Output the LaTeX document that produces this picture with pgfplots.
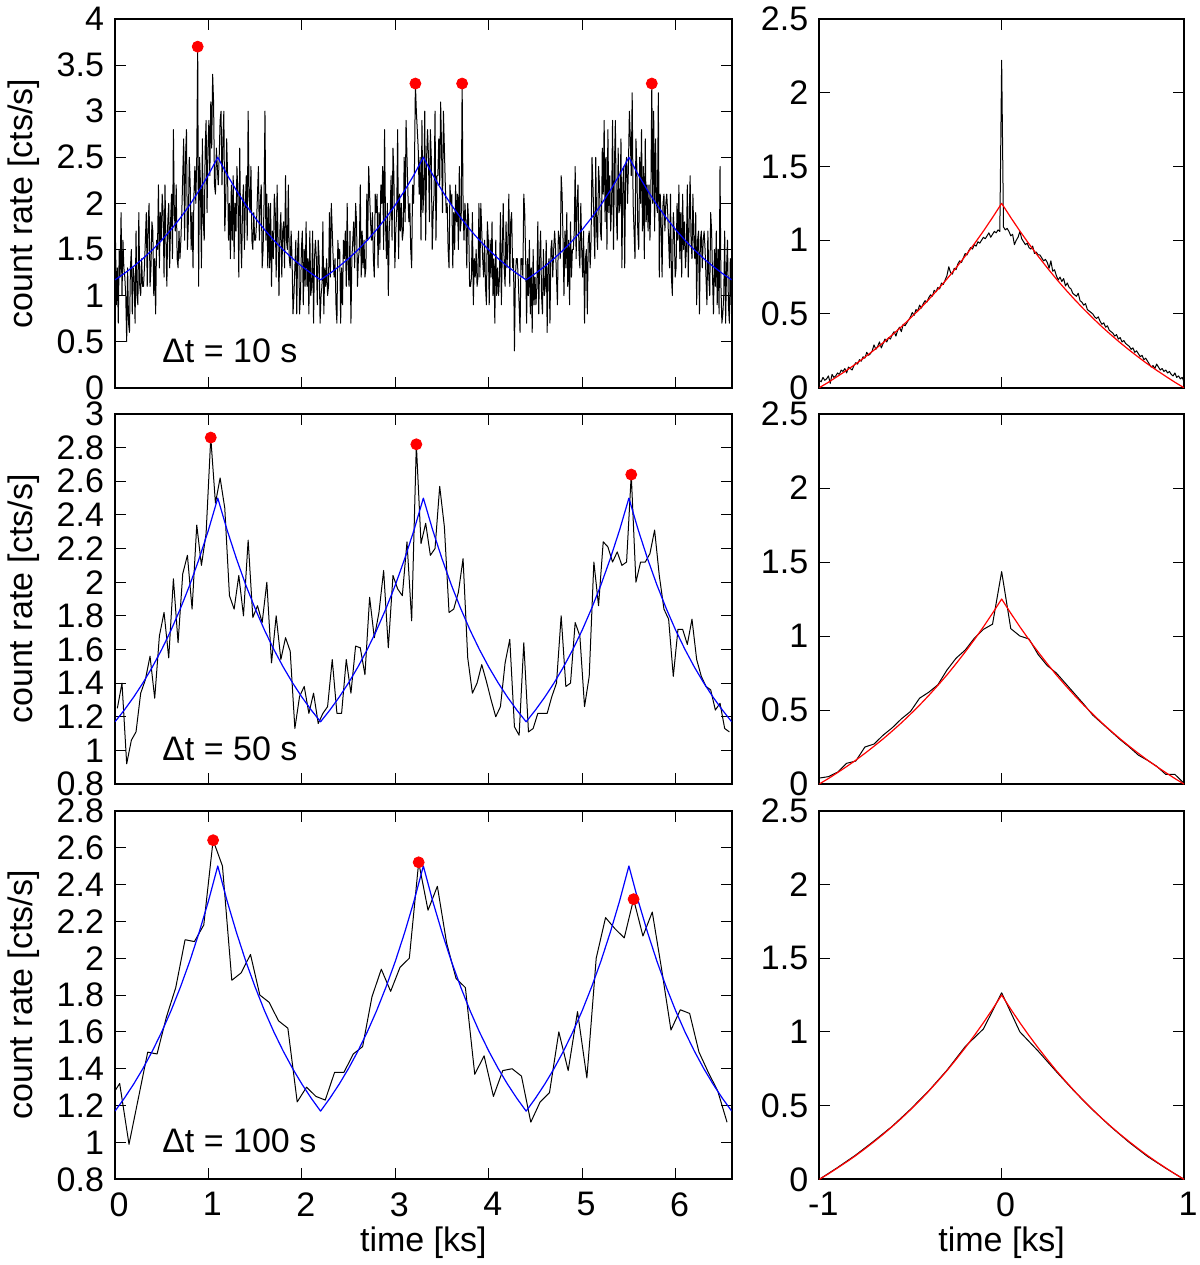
\documentclass[border=0pt]{standalone}
\usepackage{fontspec}
\setmainfont{Liberation Sans}
\usepackage{pgfplots}
\usepackage{pgfplotstable}
\pgfplotsset{compat=1.18}
\newcommand\fs{\fontsize{17pt}{20pt}\selectfont}
\definecolor{gpblue}{RGB}{0,0,255}
\definecolor{gpred}{RGB}{255,0,0}
\pgfplotsset{gp/.style={scale only axis, tick align=inside, tick pos=both,
  axis line style={line width=1pt}, every tick/.style={black, line width=0.5pt},
  major tick length=5.5pt, tick label style={font=\fs}, label style={font=\fs},
  /pgf/number format/assume math mode=true,
  yticklabel style={xshift=-2pt}, xticklabel style={yshift=-3pt, xshift=2pt},
  clip=true},
  left/.style={gp, width=308.35pt, xmin=0, xmax=6.6, xtick={0,1,2,3,4,5,6},
  ylabel={count rate [cts/s]}, ylabel style={at={(axis description cs:-0.148,0.5)}, anchor=center}},
  right/.style={gp, width=182.35pt, xmin=-1, xmax=1, xtick={-1,0,1}, ymin=0, ymax=2.5,
  ytick={0,0.5,1,1.5,2,2.5}},
  dat/.style={black, line width=0.5pt, line join=round},
  blu/.style={gpblue, line width=0.6pt, line join=round},
  rd/.style={gpred, line width=0.6pt, line join=round},
  dots/.style={only marks, mark=*, mark size=2.75pt, mark options={draw=gpred, fill=gpred}}
}
\pgfplotstableread{
t f
0 1.170
0.1 1.240
0.2 1.317
0.3 1.402
0.4 1.496
0.5 1.600
0.6 1.715
0.7 1.843
0.8 1.983
0.9 2.139
1.0 2.310
1.1 2.500
1.2 2.310
1.3 2.139
1.4 1.983
1.5 1.843
1.6 1.715
1.7 1.600
1.8 1.496
1.9 1.402
2.0 1.317
2.1 1.240
2.2 1.170
2.3 1.240
2.4 1.317
2.5 1.402
2.6 1.496
2.7 1.600
2.8 1.715
2.9 1.843
3.0 1.983
3.1 2.139
3.2 2.310
3.3 2.500
3.4 2.310
3.5 2.139
3.6 1.983
3.7 1.843
3.8 1.715
3.9 1.600
4.0 1.496
4.1 1.402
4.2 1.317
4.3 1.240
4.4 1.170
4.5 1.240
4.6 1.317
4.7 1.402
4.8 1.496
4.9 1.600
5.0 1.715
5.1 1.843
5.2 1.983
5.3 2.139
5.4 2.310
5.5 2.500
5.6 2.310
5.7 2.139
5.8 1.983
5.9 1.843
6.0 1.715
6.1 1.600
6.2 1.496
6.3 1.402
6.4 1.317
6.5 1.240
6.6 1.170
}\bluemodel
\pgfplotstableread{
x f
-1.00 0.000
-0.95 0.037
-0.90 0.077
-0.85 0.118
-0.80 0.161
-0.75 0.207
-0.70 0.255
-0.65 0.305
-0.60 0.358
-0.55 0.413
-0.50 0.472
-0.45 0.533
-0.40 0.598
-0.35 0.666
-0.30 0.737
-0.25 0.813
-0.20 0.892
-0.15 0.975
-0.10 1.062
-0.05 1.154
0.00 1.250
0.05 1.154
0.10 1.062
0.15 0.975
0.20 0.892
0.25 0.813
0.30 0.737
0.35 0.666
0.40 0.598
0.45 0.533
0.50 0.472
0.55 0.413
0.60 0.358
0.65 0.305
0.70 0.255
0.75 0.207
0.80 0.161
0.85 0.118
0.90 0.077
0.95 0.037
1.00 0.000
}\redmodel
\pgfplotstableread{
t r
-0.05 1.24
0.05 1.32
0.15 0.99
0.25 1.24
0.35 1.49
0.45 1.48
0.55 1.68
0.65 1.84
0.75 2.10
0.85 2.09
0.95 2.18
1.05 2.64
1.15 2.50
1.25 1.88
1.35 1.92
1.45 2.02
1.55 1.80
1.65 1.76
1.75 1.66
1.85 1.62
1.95 1.22
2.05 1.30
2.15 1.25
2.25 1.23
2.35 1.38
2.45 1.38
2.55 1.48
2.65 1.52
2.75 1.79
2.85 1.94
2.95 1.82
3.05 1.95
3.15 2.00
3.25 2.52
3.35 2.26
3.45 2.39
3.55 2.08
3.65 1.89
3.75 1.84
3.85 1.37
3.95 1.47
4.05 1.25
4.15 1.39
4.25 1.40
4.35 1.36
4.45 1.11
4.55 1.22
4.65 1.27
4.75 1.60
4.85 1.39
4.95 1.71
5.05 1.35
5.15 2.00
5.25 2.22
5.35 2.16
5.45 2.11
5.55 2.32
5.65 2.12
5.75 2.25
5.85 1.94
5.95 1.61
6.05 1.72
6.15 1.70
6.25 1.49
6.35 1.38
6.45 1.28
6.55 1.11
}\hundred
\begin{document}
\begin{tikzpicture}
\useasboundingbox (0pt,0pt) rectangle (600pt,-632.5pt);
% ---------- top left
\begin{axis}[left, at={(57.5pt,-193.85pt)}, anchor=south west, height=184.35pt,
  ymin=0, ymax=4, ytick={0,0.5,1,1.5,2,2.5,3,3.5,4}, xticklabels={}]
\addplot[dat] table[row sep=\\, header=false, x expr=\coordindex*0.01+0.005, y index=0] {
1.6\\0.9\\1.3\\0.7\\1.5\\ 1.2\\1.9\\1.0\\1.6\\1.3\\ 1.2\\1.0\\0.5\\1.3\\0.7\\ 0.6\\1.3\\1.5\\0.8\\1.3\\
1.2\\0.7\\1.7\\1.0\\0.9\\ 1.9\\1.1\\1.0\\1.4\\1.1\\ 1.1\\1.3\\1.6\\1.9\\1.1\\ 1.8\\2.0\\1.1\\1.3\\1.8\\
1.7\\1.0\\1.4\\0.8\\1.6\\ 1.5\\2.2\\1.3\\1.9\\1.6\\ 2.1\\1.9\\1.2\\2.2\\1.6\\ 1.1\\1.8\\2.0\\1.3\\1.8\\
2.1\\1.4\\2.8\\1.9\\1.7\\ 2.2\\1.4\\1.3\\1.7\\1.4\\ 1.6\\1.9\\2.3\\2.7\\1.6\\ 2.5\\2.8\\1.5\\1.8\\2.5\\
2.2\\1.5\\1.9\\1.3\\2.1\\ 2.4\\2.0\\2.5\\3.7\\1.1\\ 2.5\\2.2\\1.3\\2.7\\1.8\\ 1.6\\2.6\\2.9\\1.9\\2.6\\
2.9\\2.3\\3.1\\2.6\\3.4\\ 3.1\\2.2\\2.1\\2.6\\2.4\\ 2.2\\2.5\\2.9\\3.0\\2.2\\ 2.7\\3.0\\1.7\\2.0\\2.7\\
2.3\\1.6\\2.0\\1.4\\2.2\\ 1.6\\2.3\\1.4\\2.0\\1.7\\ 2.4\\2.1\\1.2\\2.6\\1.7\\ 1.3\\2.0\\2.2\\1.5\\2.0\\
2.3\\1.6\\3.0\\2.1\\1.9\\ 2.4\\1.6\\1.5\\1.9\\1.6\\ 1.6\\1.8\\2.1\\2.4\\1.6\\ 2.0\\2.2\\1.3\\1.5\\2.0\\
3.0\\1.6\\2.1\\1.3\\2.0\\ 1.3\\2.0\\1.1\\1.7\\1.4\\ 2.1\\1.9\\1.2\\2.2\\1.6\\ 1.0\\1.7\\1.9\\1.2\\1.7\\
1.8\\1.3\\2.3\\1.6\\1.5\\ 2.2\\1.4\\1.3\\1.7\\1.4\\ 0.8\\1.0\\1.3\\1.6\\0.8\\ 1.5\\1.7\\0.8\\1.0\\1.5\\
1.7\\0.9\\1.5\\1.1\\1.8\\ 1.1\\1.4\\0.8\\1.7\\1.0\\ 1.1\\1.7\\0.7\\1.4\\1.6\\ 1.4\\0.9\\1.6\\1.4\\0.7\\
1.0\\1.1\\1.8\\0.8\\1.3\\ 1.1\\1.4\\1.0\\1.1\\1.9\\ 1.2\\2.0\\1.7\\1.4\\1.2\\ 1.4\\0.9\\0.7\\1.6\\1.4\\
1.5\\0.7\\1.3\\0.9\\1.6\\ 1.4\\1.7\\1.1\\2.0\\1.3\\ 1.1\\1.7\\0.7\\1.4\\1.6\\ 1.8\\1.3\\2.0\\1.8\\1.1\\
1.4\\1.5\\2.2\\1.2\\1.7\\ 1.3\\1.6\\1.2\\1.3\\2.1\\ 1.6\\2.4\\2.1\\1.8\\1.6\\ 1.9\\1.4\\1.2\\2.1\\1.9\\
2.1\\1.3\\1.9\\1.5\\2.2\\ 2.0\\2.4\\1.5\\2.8\\1.8\\ 1.4\\2.0\\1.0\\1.7\\1.9\\ 2.3\\1.6\\2.6\\2.3\\1.3\\
1.7\\1.9\\2.8\\1.4\\2.1\\ 1.7\\2.0\\1.6\\1.7\\2.5\\ 1.8\\2.9\\2.5\\2.1\\1.8\\ 2.0\\1.5\\1.3\\2.2\\2.0\\
2.4\\3.3\\3.0\\2.8\\2.6\\ 2.1\\2.5\\1.6\\2.9\\1.9\\ 2.1\\3.0\\1.6\\2.5\\2.8\\ 2.5\\1.8\\2.8\\2.5\\1.5\\
1.9\\2.1\\3.0\\1.6\\2.3\\ 2.3\\2.7\\2.2\\3.1\\2.6\\ 1.9\\3.0\\2.6\\2.2\\1.9\\ 2.0\\1.5\\1.3\\2.2\\2.0\\
2.1\\1.3\\1.9\\1.5\\2.2\\ 1.8\\2.1\\1.5\\2.4\\1.7\\ 1.8\\3.3\\2.0\\1.6\\2.0\\ 1.8\\1.3\\2.0\\1.8\\1.1\\
1.1\\1.2\\1.9\\0.9\\1.4\\ 1.2\\1.5\\1.1\\1.2\\2.0\\ 1.2\\2.0\\1.7\\1.4\\1.2\\ 1.6\\1.1\\0.9\\1.8\\1.6\\
0.9\\1.6\\1.2\\1.8\\1.0\\ 1.4\\0.7\\1.6\\1.0\\1.3\\ 1.0\\1.2\\1.9\\0.9\\1.5\\ 2.0\\1.3\\1.1\\1.8\\1.3\\
1.6\\2.1\\1.1\\1.8\\1.9\\ 1.3\\1.4\\0.4\\1.2\\1.4\\ 1.4\\1.2\\0.9\\0.6\\1.4\\ 1.4\\1.2\\2.1\\1.9\\1.4\\
0.7\\1.4\\1.0\\1.6\\0.8\\ 1.3\\0.6\\1.5\\0.9\\1.2\\ 0.9\\1.1\\1.8\\0.8\\1.4\\ 1.7\\1.0\\0.8\\1.5\\1.0\\
1.1\\1.6\\0.6\\1.3\\1.4\\ 0.7\\1.5\\1.6\\1.2\\1.5\\ 1.7\\1.5\\1.2\\0.9\\1.7\\ 1.6\\1.4\\2.3\\2.1\\1.6\\
1.0\\1.7\\1.3\\1.9\\1.1\\ 1.6\\0.9\\1.8\\1.2\\1.5\\ 1.5\\1.7\\2.4\\1.4\\2.0\\ 2.2\\1.5\\1.3\\2.0\\1.5\\
1.2\\1.7\\0.7\\1.4\\1.5\\ 0.8\\1.6\\1.7\\1.3\\1.6\\ 2.5\\2.2\\1.8\\1.4\\2.5\\ 1.7\\1.5\\2.4\\2.2\\1.7\\
1.6\\2.6\\2.1\\2.9\\1.8\\ 2.5\\1.5\\2.8\\1.9\\2.3\\ 1.7\\2.0\\2.9\\1.5\\2.4\\ 2.9\\1.9\\1.6\\2.6\\1.9\\
2.0\\2.7\\1.3\\2.2\\2.4\\ 1.3\\2.4\\2.5\\2.0\\2.4\\ 3.0\\2.7\\2.3\\3.2\\2.0\\ 1.7\\1.4\\2.7\\2.4\\1.7\\
1.5\\2.5\\2.0\\2.8\\1.7\\ 2.4\\1.4\\2.7\\1.8\\2.2\\ 1.7\\2.2\\1.6\\2.1\\3.3\\ 2.0\\3.0\\1.7\\2.7\\2.0\\
1.9\\3.2\\1.2\\2.1\\1.8\\ 1.2\\2.0\\2.1\\1.7\\2.0\\ 2.1\\1.9\\1.6\\1.3\\2.1\\ 1.2\\1.0\\1.9\\1.7\\1.2\\
1.3\\2.0\\1.6\\2.2\\1.4\\ 1.9\\1.2\\2.1\\1.5\\1.8\\ 1.3\\1.5\\2.2\\1.2\\1.8\\ 2.3\\1.6\\1.4\\2.1\\1.6\\
1.4\\1.9\\0.9\\1.6\\1.7\\ 0.8\\1.6\\1.7\\1.3\\1.6\\ 1.7\\1.5\\1.2\\0.9\\1.7\\ 1.2\\1.0\\1.9\\1.7\\1.2\\
0.8\\1.5\\1.1\\1.7\\0.9\\ 1.5\\0.8\\2.4\\1.1\\0.7\\ 0.8\\1.0\\1.7\\0.7\\1.3\\ 1.6\\0.9\\0.7\\1.4\\0.9\\
};
\addplot[blu] table[x=t, y=f] {\bluemodel};
\addplot[dots] coordinates {(0.885,3.7) (3.215,3.3) (3.715,3.3) (5.745,3.3)};
\node[anchor=base west, font=\fs, inner sep=0pt] at (rel axis cs:0.076,0.069) {Δt = 10 s};
\end{axis}
% ---------- middle left
\begin{axis}[left, at={(57.5pt,-392pt)}, anchor=south west, height=185pt,
  ymin=0.8, ymax=3, ytick={0.8,1,1.2,1.4,1.6,1.8,2,2.2,2.4,2.6,2.8,3}, xticklabels={}]
\addplot[dat] table[row sep=\\, header=false, x expr=\coordindex*0.05+0.025, y index=0] {
1.25\\1.40\\0.92\\1.06\\1.11\\1.34\\1.42\\1.56\\1.31\\1.68\\
1.82\\1.55\\2.02\\1.64\\2.05\\2.16\\1.84\\2.34\\2.10\\2.29\\
2.86\\2.47\\2.62\\2.44\\1.92\\1.84\\2.04\\1.80\\2.25\\1.79\\
1.86\\1.76\\2.00\\1.52\\1.80\\1.54\\1.67\\1.59\\1.13\\1.32\\
1.38\\1.22\\1.34\\1.16\\1.22\\1.26\\1.54\\1.22\\1.22\\1.54\\
1.34\\1.62\\1.61\\1.45\\1.91\\1.67\\1.82\\2.07\\1.61\\2.04\\
1.96\\1.92\\2.24\\1.77\\2.82\\2.23\\2.35\\2.16\\2.20\\2.57\\
2.33\\1.82\\1.84\\1.94\\2.14\\1.55\\1.34\\1.40\\1.51\\1.41\\
1.30\\1.20\\1.26\\1.52\\1.66\\1.14\\1.09\\1.64\\1.11\\1.13\\
1.22\\1.22\\1.22\\1.32\\1.40\\1.80\\1.38\\1.40\\1.76\\1.68\\
1.26\\1.44\\2.12\\1.86\\2.24\\2.21\\2.12\\2.18\\2.10\\2.12\\
2.64\\2.00\\2.12\\2.12\\2.17\\2.31\\2.04\\1.84\\1.78\\1.44\\
1.72\\1.72\\1.63\\1.78\\1.54\\1.44\\1.38\\1.36\\1.24\\1.28\\
1.13\\1.11\\
};
\addplot[blu] table[x=t, y=f] {\bluemodel};
\addplot[dots] coordinates {(1.025,2.86) (3.225,2.82) (5.525,2.64)};
\node[anchor=base west, font=\fs, inner sep=0pt] at (rel axis cs:0.076,0.063) {Δt = 50 s};
\end{axis}
% ---------- bottom left
\begin{axis}[left, at={(57.5pt,-589.65pt)}, anchor=south west, height=184.3pt,
  ymin=0.8, ymax=2.8, ytick={0.8,1,1.2,1.4,1.6,1.8,2,2.2,2.4,2.6,2.8},
  xlabel={time [ks]}, xlabel style={at={(axis description cs:0.5,-0.172)}, anchor=center}]
\addplot[dat] table[x=t, y=r] {\hundred};
\addplot[blu] table[x=t, y=f] {\bluemodel};
\addplot[dots] coordinates {(1.05,2.64) (3.25,2.52) (5.55,2.32)};
\node[anchor=base west, font=\fs, inner sep=0pt] at (rel axis cs:0.076,0.072) {Δt = 100 s};
\end{axis}
% ---------- top right
\begin{axis}[right, at={(409.65pt,-193.85pt)}, anchor=south west, height=184.35pt, xticklabels={}]
\addplot[dat] table[row sep=\\, header=false, x expr=\coordindex*0.01-1, y index=0] {
0.05\\0.04\\0.07\\0.05\\0.06\\0.08\\0.03\\0.09\\0.07\\0.08\\
0.10\\0.09\\0.12\\0.11\\0.13\\0.10\\0.14\\0.13\\0.12\\0.15\\
0.17\\0.16\\0.19\\0.18\\0.21\\0.20\\0.24\\0.22\\0.23\\0.25\\
0.29\\0.26\\0.28\\0.31\\0.27\\0.30\\0.33\\0.31\\0.34\\0.33\\
0.36\\0.38\\0.35\\0.39\\0.41\\0.38\\0.43\\0.42\\0.44\\0.46\\
0.48\\0.51\\0.49\\0.53\\0.52\\0.56\\0.54\\0.57\\0.59\\0.58\\
0.61\\0.63\\0.62\\0.66\\0.65\\0.68\\0.67\\0.71\\0.70\\0.73\\
0.76\\0.82\\0.78\\0.77\\0.81\\0.80\\0.84\\0.86\\0.85\\0.88\\
0.91\\0.90\\0.93\\0.95\\0.94\\0.97\\0.96\\0.99\\0.98\\1.00\\
1.02\\1.01\\1.03\\1.05\\1.02\\1.04\\1.06\\1.05\\1.07\\1.06\\
2.22\\
1.09\\1.07\\1.08\\1.06\\1.03\\1.04\\0.97\\1.00\\1.02\\
1.06\\1.01\\0.99\\0.97\\0.98\\0.95\\0.94\\0.96\\0.91\\0.92\\
0.90\\0.90\\0.88\\0.86\\0.87\\0.85\\0.81\\0.86\\0.79\\0.80\\
0.76\\0.73\\0.75\\0.72\\0.74\\0.69\\0.71\\0.68\\0.67\\0.64\\
0.63\\0.62\\0.64\\0.59\\0.58\\0.56\\0.57\\0.53\\0.52\\0.51\\
0.50\\0.48\\0.47\\0.48\\0.45\\0.43\\0.44\\0.41\\0.42\\0.39\\
0.38\\0.37\\0.35\\0.36\\0.33\\0.34\\0.31\\0.32\\0.30\\0.29\\
0.28\\0.26\\0.27\\0.24\\0.25\\0.23\\0.21\\0.22\\0.19\\0.20\\
0.18\\0.16\\0.14\\0.15\\0.13\\0.16\\0.14\\0.12\\0.13\\0.11\\
0.12\\0.10\\0.11\\0.09\\0.08\\0.10\\0.07\\0.08\\0.06\\0.07\\
0.04\\
};
\addplot[rd] table[x=x, y=f] {\redmodel};
\end{axis}
% ---------- middle right
\begin{axis}[right, at={(409.65pt,-392pt)}, anchor=south west, height=185pt, xticklabels={}]
\addplot[dat] table[row sep=\\, header=false, x expr=\coordindex*0.05-1, y index=0] {
0.04\\0.05\\0.08\\0.14\\0.155\\0.25\\0.27\\0.33\\0.38\\0.44\\
0.49\\0.58\\0.62\\0.67\\0.77\\0.85\\0.905\\0.985\\1.045\\1.08\\
1.435\\
1.05\\1.00\\0.98\\0.875\\0.80\\0.75\\0.68\\0.61\\0.54\\0.465\\
0.41\\0.355\\0.30\\0.25\\0.195\\0.16\\0.12\\0.065\\0.065\\0.005\\
};
\addplot[rd] table[x=x, y=f] {\redmodel};
\end{axis}
% ---------- bottom right
\begin{axis}[right, at={(409.65pt,-589.65pt)}, anchor=south west, height=184.3pt,
  xlabel={time [ks]}, xlabel style={at={(axis description cs:0.5,-0.172)}, anchor=center}]
\addplot[dat] table[row sep=\\, header=false, x expr=\coordindex*0.1-1, y index=0] {
0.00\\0.08\\0.165\\0.26\\0.36\\0.475\\0.60\\0.74\\0.90\\1.02\\
1.265\\
1.00\\0.87\\0.73\\0.595\\0.47\\0.355\\0.25\\0.155\\0.075\\0.00\\
};
\addplot[rd] table[x=x, y=f] {\redmodel};
\end{axis}
\end{tikzpicture}
\end{document}
